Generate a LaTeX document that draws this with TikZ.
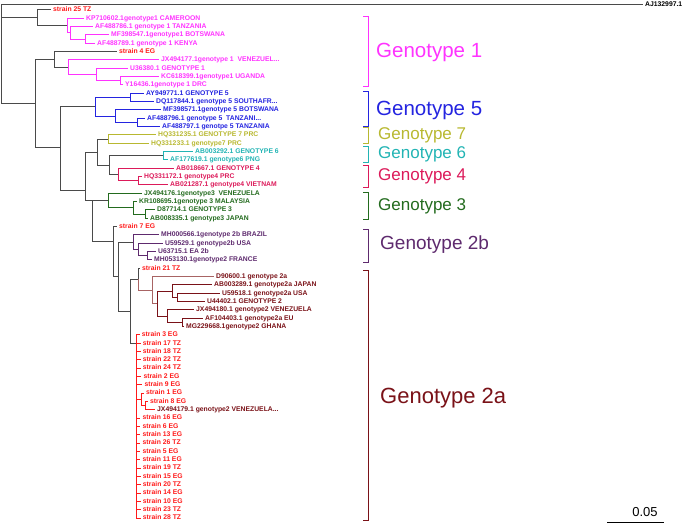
\documentclass[tikz,border=0pt]{standalone}
\usepackage{fontspec}
\setmainfont{Liberation Sans}
\definecolor{bb}{HTML}{4A4A4A}
\definecolor{strn}{HTML}{FF1A1A}
\definecolor{gone}{HTML}{FF33FF}
\definecolor{gfive}{HTML}{2424E0}
\definecolor{gseven}{HTML}{B8B830}
\definecolor{gsix}{HTML}{22B4B4}
\definecolor{gfour}{HTML}{DC1A5A}
\definecolor{gthree}{HTML}{236B1E}
\definecolor{gtwob}{HTML}{5E2A6E}
\definecolor{gtwoa}{HTML}{7A1218}
\definecolor{gtwoal}{HTML}{A86464}
\newcommand{\trail}{.\kern0pt.\kern0pt.}
\begin{document}
\begin{tikzpicture}[x=1pt,y=-1pt,
  tip/.style={anchor=west,inner xsep=2pt,inner ysep=0pt,text height=5pt,text depth=1.4pt,font=\fontsize{6.8}{7}\selectfont\bfseries},
  br/.style={line width=1pt},
  gen/.style={anchor=west,inner sep=0pt}]
\useasboundingbox (0,0) rectangle (685,524);
% leaf labels
\node[tip] (tAJ) at (643,4.5) {AJ132997.1};
\foreach \i/\xl/\col/\lab in {0/53/strn/strain 25 TZ,
  1/86/gone/KP710602.1genotype1 CAMEROON, 2/95/gone/AF488786.1 genotype 1 TANZANIA,
  3/111/gone/MF398547.1genotype1 BOTSWANA, 4/97/gone/AF488789.1 genotype 1 KENYA,
  5/119/strn/strain 4 EG, 6/161/gone/JX494177.1genotype 1~ VENEZUEL\trail,
  7/130/gone/U36380.1 GENOTYPE 1, 8/161/gone/KC618399.1genotype1 UGANDA,
  9/125/gone/Y16436.1genotype 1 DRC,
  10/146/gfive/AY949771.1 GENOTYPE 5, 11/156/gfive/DQ117844.1 genotype 5 SOUTHAFR\trail,
  12/163/gfive/MF398571.1genotype 5 BOTSWANA, 13/147/gfive/AF488796.1 genotype 5~ TANZANI\trail,
  14/162/gfive/AF488797.1 genotpe 5 TANZANIA,
  15/158/gseven/HQ331235.1 GENOTYPE 7 PRC, 16/151/gseven/HQ331233.1 genotype7 PRC,
  17/195/gsix/AB003292.1 GENOTYPE 6, 18/170/gsix/AF177619.1 genotype6 PNG,
  19/176/gfour/AB018667.1 GENOTYPE 4, 20/144/gfour/HQ331172.1 genotype4 PRC,
  21/170/gfour/AB021287.1 genotype4 VIETNAM,
  22/144/gthree/JX494176.1genotype3~ VENEZUELA, 23/139/gthree/KR108695.1genotype 3 MALAYSIA,
  24/157/gthree/D87714.1 GENOTYPE 3, 25/150/gthree/AB008335.1 genotype3 JAPAN,
  26/119/strn/strain 7 EG,
  27/161/gtwob/MH000566.1genotype 2b BRAZIL, 28/165/gtwob/U59529.1 genotype2b USA,
  29/158/gtwob/U63715.1 EA 2b, 30/154/gtwob/MH053130.1genotype2 FRANCE,
  31/142/strn/strain 21 TZ,
  32/216/gtwoa/D90600.1 genotype 2a, 33/214/gtwoa/AB003289.1 genotype2a JAPAN,
  34/222/gtwoa/U59518.1 genotype2a USA, 35/207/gtwoa/U44402.1 GENOTYPE 2,
  36/196/gtwoa/JX494180.1 genotype2 VENEZUELA, 37/205/gtwoa/AF104403.1 genotype2a EU,
  38/186/gtwoa/MG229668.1genotype2 GHANA,
  39/141.7/strn/strain 3 EG, 40/142.7/strn/strain 17 TZ, 41/142.7/strn/strain 18 TZ,
  42/142.7/strn/strain 22 TZ, 43/142.7/strn/strain 24 TZ, 44/143.3/strn/strain 2 EG,
  45/144.3/strn/strain 9 EG, 46/146/strn/strain 1 EG, 47/150/strn/strain 8 EG,
  48/157/gtwoa/JX494179.1 genotype2 VENEZUELA\trail,
  49/142.3/strn/strain 16 EG, 50/142.3/strn/strain 6 EG, 51/142.3/strn/strain 13 EG,
  52/142.3/strn/strain 26 TZ, 53/142.3/strn/strain 5 EG, 54/142.3/strn/strain 11 EG,
  55/142.7/strn/strain 19 TZ, 56/142.7/strn/strain 15 EG, 57/142.7/strn/strain 20 TZ,
  58/142.7/strn/strain 14 EG, 59/142.7/strn/strain 10 EG, 60/142.7/strn/strain 23 TZ,
  61/142.7/strn/strain 28 TZ}{
  \node[tip,text=\col] (t\i) at ({\xl-2},{10+\i*8.33}) {\lab};
}
% inner nodes
\foreach \n/\x/\y in {root/1/53, nS/37/17.8, n1a/67.5/25.6, n1b/70.5/32.9, n1c/85/39.15,
  nA/35/103.7, n1d/54/59.46, n1e/68/67.27, n1f/96/74.56, n1g/120/80.8,
  nB/60/147.97, n5a/95/106.84, n5b/130/97.47, n5c/115/116.21, n5d/137/122.46,
  nC/85/190, nD/97/152.13, n7/108/139.1, nE/109/165.16, n6/163/155.8,
  n4a/118/174.52, n4b/138/180.77,
  nH/92/200.55, n3a/108/200.55, n3b/133/207.84, n3c/145/214.09,
  nJ/113/241.7, nK/118/276.7, nba/133/242.2, nbb/138/249.49, nbc/147/255.74,
  nI/130/311.19, n21/138/279.17, n2ab/152/290.1, n2ae/157/303.64,
  n2ac/172/291.14, n2ad/177/297.39, n2af/167/316.13, n2ag/182/322.38,
  nR/136.5/343.2, ns1/141.7/399.43, ns2/145/405.68}{
  \coordinate (\n) at (\x,\y);
}
% branches
\foreach \p/\c/\col in {root/tAJ.west/bb, root/nS/bb, root/nA/bb,
  nS/t0.west/bb, nS/n1a/bb,
  n1a/t1.west/gone, n1a/n1b/gone, n1b/t2.west/gone, n1b/n1c/gone, n1c/t3.west/gone, n1c/t4.west/gone,
  nA/n1d/bb, nA/nB/bb, n1d/t5.west/bb, n1d/n1e/bb,
  n1e/t6.west/gone, n1e/n1f/gone, n1f/t7.west/gone, n1f/n1g/gone, n1g/t8.west/gone, n1g/t9.west/gone,
  nB/n5a/bb, nB/nC/bb,
  n5a/n5b/gfive, n5a/n5c/gfive, n5b/t10.west/gfive, n5b/t11.west/gfive,
  n5c/t12.west/gfive, n5c/n5d/gfive, n5d/t13.west/gfive, n5d/t14.west/gfive,
  nC/nD/bb, nC/nH/bb, nD/n7/bb, nD/nE/bb,
  n7/t15.west/gseven, n7/t16.west/gseven,
  nE/n6/bb, nE/n4a/bb, n6/t17.west/gsix, n6/t18.west/gsix,
  n4a/t19.west/gfour, n4a/n4b/gfour, n4b/t20.west/gfour, n4b/t21.west/gfour,
  nH/n3a/bb, nH/nJ/bb,
  n3a/t22.west/gthree, n3a/n3b/gthree, n3b/t23.west/gthree, n3b/n3c/gthree,
  n3c/t24.west/gthree, n3c/t25.west/gthree,
  nJ/t26.west/bb, nJ/nK/bb, nK/nba/bb, nK/nI/bb,
  nba/t27.west/gtwob, nba/nbb/gtwob, nbb/t28.west/gtwob, nbb/nbc/gtwob,
  nbc/t29.west/gtwob, nbc/t30.west/gtwob,
  nI/n21/bb, nI/nR/bb, n21/t31.west/bb, n21/n2ab/gtwoal,
  n2ab/t32.west/gtwoal, n2ab/n2ae/gtwoal,
  n2ae/n2ac/gtwoa, n2ae/n2af/gtwoa,
  n2ac/t33.west/gtwoa, n2ac/n2ad/gtwoa, n2ad/t34.west/gtwoa, n2ad/t35.west/gtwoa,
  n2af/t36.west/gtwoa, n2af/n2ag/gtwoa, n2ag/t37.west/gtwoa, n2ag/t38.west/gtwoa,
  nR/ns1/strn, ns1/t46.west/strn, ns1/ns2/strn, ns2/t47.west/strn, ns2/t48.west/strn}{
  \draw[br,draw=\col] (\p) |- (\c);
}
% red cluster of strains
\foreach \i in {39,40,41,42,43,44,45,49,50,51,52,53,54,55,56,57,58,59,60,61}{
  \draw[br,draw=strn] (nR) |- (t\i.west);
}
% genotype brackets
\foreach \ya/\yb/\yl/\xl/\fs/\col/\lab [count=\k] in {17/87/52/376/20.5/gone/Genotype 1,
  92/127/110/376/20.5/gfive/Genotype 5, 128/143/135/378/17/gseven/Genotype 7,
  146/162/154/378/17/gsix/Genotype 6, 165/187/176/378/17/gfour/Genotype 4,
  192/219/206/378/17/gthree/Genotype 3, 229/262/245/380/19/gtwob/Genotype 2b,
  270/520/398/380/22/gtwoa/Genotype 2a}{
  \draw[line width=1pt,draw=\col] (363,\ya) -- (368,\ya) -- (368,\yb) -- (363,\yb);
  \node[gen,text=\col,font=\fontsize{\fs}{\fs}\selectfont] (g\k) at (\xl,\yl) {\lab};
}
% scale bar
\draw[line width=0.8pt] (607,522.6) -- (664,522.6);
\node[font=\fontsize{13}{13}\selectfont] (sc) at (645,512) {0.05};
\end{tikzpicture}
\end{document}
